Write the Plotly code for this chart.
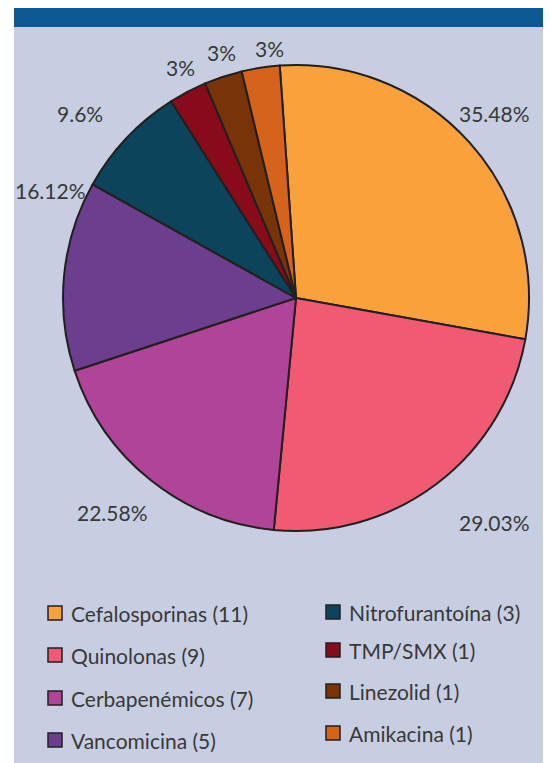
import plotly.graph_objects as go

# ---- data ----
categories = ["Cefalosporinas", "Quinolonas", "Cerbapenémicos", "Vancomicina",
              "Nitrofurantoína", "TMP/SMX", "Linezolid", "Amikacina"]
counts = [11, 9, 7, 5, 3, 1, 1, 1]
pct_labels = ["35.48%", "29.03%", "22.58%", "16.12%", "9.6%", "3%", "3%", "3%"]

# ---- styles ----
colors = ["#f9a23c", "#f05a73", "#b04499", "#6b3f8d",
          "#0c445b", "#870b19", "#773408", "#d5631b"]
OFF = 8  # default body margin of the html page
W, H = 551 - OFF, 763 - OFF
FONT = "Lato"
TXT = "#383838"
# label centers (window pixels) for the percentage texts
label_pos = [(494, 114), (494, 522), (112, 512), (50, 190),
             (80, 114), (180, 67), (221, 52), (269, 48)]


def px(x):
    return (x - OFF) / W


def py(y):
    return 1 - (y - OFF) / H


cx, cy, r = 296, 298, 233

fig = go.Figure()
fig.add_trace(go.Pie(
    labels=categories,
    values=counts,
    sort=False,
    direction="clockwise",
    rotation=-4,
    marker=dict(colors=colors, line=dict(color="#231f20", width=2)),
    textinfo="none",
    hoverinfo="skip",
    showlegend=False,
    domain=dict(x=[px(cx - r), px(cx + r)], y=[py(cy + r), py(cy - r)]),
))

shapes = [
    # panel background
    dict(type="rect", xref="paper", yref="paper", x0=px(14), x1=1,
         y0=0, y1=py(27), fillcolor="#c8cee2", line=dict(width=0), layer="below"),
    # top blue bar
    dict(type="rect", xref="paper", yref="paper", x0=px(14), x1=1,
         y0=py(27), y1=1, fillcolor="#0c5994", line=dict(width=0), layer="below"),
]

annotations = []
for (lx, ly), t in zip(label_pos, pct_labels):
    annotations.append(dict(x=px(lx), y=py(ly), xref="paper", yref="paper",
                            text=t, showarrow=False, xanchor="center", yanchor="middle",
                            font=dict(family=FONT, size=21, color=TXT)))

# manual two-column legend
col_x = [(48, 69), (326, 347)]
row_y = [[613, 655, 698, 740], [612, 650, 691, 733]]
for i, (cat, n, c) in enumerate(zip(categories, counts, colors)):
    col = 0 if i < 4 else 1
    row = i % 4
    sx, tx = col_x[col]
    yy = row_y[col][row]
    shapes.append(dict(type="rect", xref="paper", yref="paper",
                       x0=px(sx), x1=px(sx + 14), y0=py(yy + 7), y1=py(yy - 7),
                       fillcolor=c, line=dict(color="#231f20", width=1.5)))
    annotations.append(dict(x=px(tx), y=py(yy), xref="paper", yref="paper",
                            text=f"{cat} ({n})", showarrow=False,
                            xanchor="left", yanchor="middle",
                            font=dict(family=FONT, size=21, color=TXT)))

fig.update_layout(
    width=W, height=H,
    margin=dict(l=0, r=0, t=0, b=0),
    paper_bgcolor="white",
    plot_bgcolor="white",
    shapes=shapes,
    annotations=annotations,
    showlegend=False,
)

fig.write_html("out.html")
